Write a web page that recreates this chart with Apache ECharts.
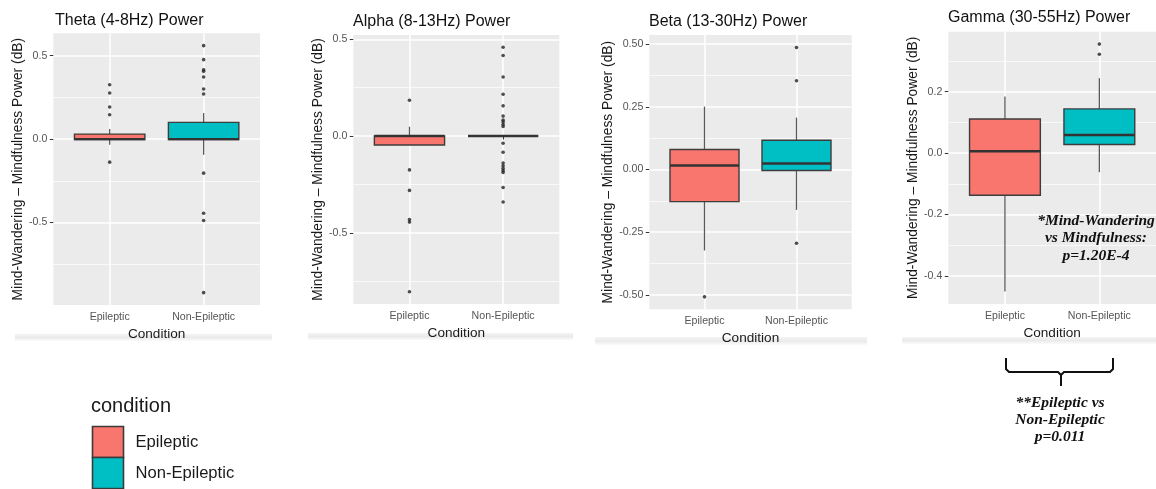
<!DOCTYPE html>
<html>
<head>
<meta charset="utf-8">
<script src="https://cdn.jsdelivr.net/npm/echarts@6/dist/echarts.min.js"></script>
<style>
  html, body { margin: 0; padding: 0; background: #ffffff; }
  #chart { width: 1156px; height: 489px; }
</style>
</head>
<body>
<div id="chart"></div>
<script>
// ---------------- DATA ----------------
const categories = ['Epileptic', 'Non-Epileptic'];
const panelTitles = ['Theta (4-8Hz) Power', 'Alpha (8-13Hz) Power', 'Beta (13-30Hz) Power', 'Gamma (30-55Hz) Power'];

// box stats: [lower whisker, Q1, median, Q3, upper whisker]
const thetaBoxEpileptic    = [-0.034, -0.002, 0.0, 0.03, 0.06];
const thetaBoxNonEpileptic = [-0.094, -0.003, 0.0, 0.10, 0.156];
const thetaOutEpileptic    = [0.326, 0.276, 0.192, 0.146, -0.138];
const thetaOutNonEpileptic = [0.56, 0.476, 0.416, 0.406, 0.372, 0.30, 0.27, -0.204, -0.444, -0.488, -0.92];

const alphaBoxEpileptic    = [-0.046, -0.046, 0.0, 0.0, 0.048];
const alphaBoxNonEpileptic = [0.0, 0.0, 0.0, 0.0, 0.0];
const alphaOutEpileptic    = [0.185, -0.175, -0.281, -0.432, -0.445, -0.805];
const alphaOutNonEpileptic = [0.459, 0.416, 0.305, 0.216, 0.156, 0.103, 0.082, 0.072, 0.059, 0.049,
                              -0.037, -0.084, -0.140, -0.154, -0.167, -0.178, -0.188, -0.266, -0.341];

const betaBoxEpileptic     = [-0.323, -0.128, 0.016, 0.080, 0.251];
const betaBoxNonEpileptic  = [-0.161, -0.004, 0.024, 0.117, 0.207];
const betaOutEpileptic     = [-0.508];
const betaOutNonEpileptic  = [0.487, 0.354, -0.294];

const gammaBoxEpileptic    = [-0.451, -0.137, 0.006, 0.111, 0.184];
const gammaBoxNonEpileptic = [-0.062, 0.028, 0.059, 0.144, 0.244];
const gammaOutEpileptic    = [];
const gammaOutNonEpileptic = [0.355, 0.322];

// y-axis tick labels (major) and minor grid positions
const thetaTicks = [-0.5, 0, 0.5];
const alphaTicks = [-0.5, 0, 0.5];
const betaTicks  = [-0.5, -0.25, 0, 0.25, 0.5];
const gammaTicks = [-0.4, -0.2, 0, 0.2];
const thetaMinor = [-0.75, -0.25, 0.25];
const alphaMinor = [-0.75, -0.25, 0.25];
const betaMinor  = [-0.375, -0.125, 0.125, 0.375];
const gammaMinor = [-0.3, -0.1, 0.1, 0.3];
const tickDecimals = [1, 1, 2, 1];

const yAxisTitle = 'Mind-Wandering \u2013 Mindfulness Power (dB)';
const xAxisTitle = 'Condition';
const legendTitle = 'condition';

// ---------------- LAYOUT / STYLE ----------------
const panels = [
  { box: [thetaBoxEpileptic, thetaBoxNonEpileptic], out: [thetaOutEpileptic, thetaOutNonEpileptic], ticks: thetaTicks, minor: thetaMinor,
    grid: { left: 53.3, top: 33.3, width: 206.7, height: 271.7 }, titlePos: [55, 13], yGap: 22, xGap: 18 },
  { box: [alphaBoxEpileptic, alphaBoxNonEpileptic], out: [alphaOutEpileptic, alphaOutNonEpileptic], ticks: alphaTicks, minor: alphaMinor,
    grid: { left: 353.3, top: 35, width: 206, height: 269 }, titlePos: [353, 14], yGap: 24, xGap: 19 },
  { box: [betaBoxEpileptic, betaBoxNonEpileptic], out: [betaOutEpileptic, betaOutNonEpileptic], ticks: betaTicks, minor: betaMinor,
    grid: { left: 649.3, top: 35, width: 202.4, height: 274.3 }, titlePos: [649, 14], yGap: 32, xGap: 15.5 },
  { box: [gammaBoxEpileptic, gammaBoxNonEpileptic], out: [gammaOutEpileptic, gammaOutNonEpileptic], ticks: gammaTicks, minor: gammaMinor,
    grid: { left: 948.3, top: 31.7, width: 207.7, height: 272.3 }, titlePos: [948, 10], yGap: 27, xGap: 15 }
];
const fills = ['#F8766D', '#00BFC4'];
const FONT = '"Liberation Sans", Arial, Helvetica, sans-serif';

const grids = [], xAxes = [], yAxes = [], series = [];
const titles = [];

panels.forEach((p, i) => {
  // ggplot-like continuous range expansion (5%)
  let lo = Infinity, hi = -Infinity;
  p.box.forEach(b => { lo = Math.min(lo, b[0]); hi = Math.max(hi, b[4]); });
  p.out.forEach(o => o.forEach(v => { lo = Math.min(lo, v); hi = Math.max(hi, v); }));
  const pad = (hi - lo) * 0.05;
  const ymin = lo - pad, ymax = hi + pad;

  grids.push(Object.assign({ show: true, backgroundColor: '#EBEBEB', borderWidth: 0, containLabel: false }, p.grid));

  xAxes.push({
    gridIndex: i, type: 'value', min: 0.4, max: 2.6,
    axisLine: { show: false },
    axisTick: { show: true, length: 3.5, customValues: [1, 2], lineStyle: { color: '#333', width: 1 } },
    axisLabel: { customValues: [1, 2], formatter: v => categories[Math.round(v) - 1], fontSize: 10.6, color: '#555', margin: 6.5, fontFamily: FONT },
    splitLine: { show: true, lineStyle: { color: '#ffffff', width: 1.5 } },
    name: xAxisTitle, nameLocation: 'middle', nameGap: p.xGap,
    nameTextStyle: { fontSize: 13.6, color: '#1a1a1a', fontFamily: FONT }
  });

  const d = tickDecimals[i];
  yAxes.push({
    gridIndex: i, type: 'value', min: ymin, max: ymax, position: 'left',
    axisLine: { show: false },
    axisTick: { show: true, length: 3.5, customValues: p.ticks, lineStyle: { color: '#333', width: 1 } },
    axisLabel: { customValues: p.ticks, formatter: v => v.toFixed(d), fontSize: 10.6, color: '#555', margin: 6, fontFamily: FONT },
    splitLine: { show: true, lineStyle: { color: '#ffffff', width: 1.5 } },
    name: yAxisTitle, nameLocation: 'middle', nameGap: p.yGap, nameRotate: 90,
    nameTextStyle: { fontSize: 13.8, color: '#1a1a1a', fontFamily: FONT },
    z: 2
  });
  // minor grid lines
  yAxes.push({
    gridIndex: i, type: 'value', min: ymin, max: ymax, position: 'left',
    axisLine: { show: false },
    axisTick: { show: false, customValues: p.minor },
    axisLabel: { show: false, customValues: p.minor },
    splitLine: { show: true, lineStyle: { color: '#ffffff', width: 0.7 } },
    z: 1
  });

  titles.push({
    text: panelTitles[i], left: p.titlePos[0], top: p.titlePos[1], padding: 0,
    textStyle: { fontSize: 16, fontWeight: 'normal', color: '#111', fontFamily: FONT }
  });
});

panels.forEach((p, i) => {
  categories.forEach((c, k) => {
    series.push({
      type: 'custom', name: c, xAxisIndex: i, yAxisIndex: 2 * i,
      itemStyle: { color: fills[k], borderColor: '#333', borderWidth: 1.5 },
      encode: { x: 0, y: [1, 2, 3, 4, 5] },
      data: [[k + 1].concat(p.box[k])],
      z: 3,
      renderItem: (params, api) => {
        const x = api.value(0);
        const pLo = api.coord([x, api.value(1)]);
        const pQ1 = api.coord([x, api.value(2)]);
        const pMed = api.coord([x, api.value(3)]);
        const pQ3 = api.coord([x, api.value(4)]);
        const pHi = api.coord([x, api.value(5)]);
        const half = api.size([0.75, 0])[0] / 2;
        const cx = pMed[0];
        return {
          type: 'group',
          children: [
            { type: 'line', shape: { x1: cx, y1: pLo[1], x2: cx, y2: pQ1[1] }, style: { stroke: '#5a5a5a', lineWidth: 1.3 } },
            { type: 'line', shape: { x1: cx, y1: pQ3[1], x2: cx, y2: pHi[1] }, style: { stroke: '#5a5a5a', lineWidth: 1.3 } },
            { type: 'rect', shape: { x: cx - half, y: pQ3[1], width: 2 * half, height: pQ1[1] - pQ3[1] },
              style: { fill: fills[k], stroke: '#3d3d3d', lineWidth: 1.4 } },
            { type: 'line', shape: { x1: cx - half, y1: pMed[1], x2: cx + half, y2: pMed[1] }, style: { stroke: '#333', lineWidth: 2.4 } }
          ]
        };
      }
    });
  });
  categories.forEach((c, k) => {
    series.push({
      type: 'scatter', name: c, xAxisIndex: i, yAxisIndex: 2 * i,
      symbol: 'circle', symbolSize: 3.6,
      itemStyle: { color: '#222' },
      data: p.out[k].map(v => [k + 1, v]),
      z: 4, silent: true
    });
  });
});

titles.push({
  text: legendTitle, left: 91, top: 396, padding: 0,
  textStyle: { fontSize: 20, fontWeight: 'normal', color: '#1a1a1a', fontFamily: FONT }
});

function band(x, y, w, h) {
  return {
    type: 'rect', shape: { x: x, y: y, width: w, height: h }, silent: true,
    style: { fill: new echarts.graphic.LinearGradient(0, 0, 0, 1, [
      { offset: 0, color: '#f4f4f4' }, { offset: 0.5, color: '#eaeaea' }, { offset: 1, color: '#fbfbfb' }]) }
  };
}

function legendFor(name, top) {
  return {
    data: [name], orient: 'vertical', left: 91.7, top: top, padding: 0,
    itemWidth: 31, itemHeight: 31, itemGap: 0, icon: 'rect',
    itemStyle: { borderColor: '#3a3a3a', borderWidth: 1.6 },
    formatter: '{a|{name}}',
    textStyle: { fontSize: 16.6, color: '#1a1a1a', fontFamily: FONT,
      rich: { a: { fontSize: 16.6, color: '#1a1a1a', fontFamily: FONT, padding: [0, 0, 0, 7] } } }
  };
}

const ANN_FONT = 'italic bold 15.5px "Liberation Serif", "Times New Roman", serif';
const bracketStyle = { stroke: '#111', lineWidth: 2, fill: null };

const option = {
  backgroundColor: '#ffffff',
  animation: false,
  title: titles,
  grid: grids,
  xAxis: xAxes,
  yAxis: yAxes,
  legend: [legendFor(categories[0], 425.7), legendFor(categories[1], 456.7)],
  graphic: [
    band(15, 334, 257, 7),
    band(308, 333, 265, 7),
    band(595, 337, 272, 8),
    band(902, 337, 254, 7),
    {
      type: 'text', x: 1096, y: 238.3, silent: true, z: 100,
      style: { text: '*Mind-Wandering\nvs Mindfulness:\np=1.20E-4', font: ANN_FONT, fill: '#111',
               align: 'center', verticalAlign: 'middle', lineHeight: 17.7 }
    },
    {
      type: 'polyline', silent: true, z: 100,
      shape: { points: [[1006, 358], [1006, 369], [1009, 372], [1058, 372], [1061, 375], [1061, 386]] },
      style: bracketStyle
    },
    {
      type: 'polyline', silent: true, z: 100,
      shape: { points: [[1061, 375], [1064, 372], [1110, 372], [1113, 369], [1113, 358]] },
      style: bracketStyle
    },
    {
      type: 'text', x: 1060, y: 420, silent: true, z: 100,
      style: { text: '**Epileptic vs\nNon-Epileptic\np=0.011', font: ANN_FONT, fill: '#111',
               align: 'center', verticalAlign: 'middle', lineHeight: 17 }
    }
  ],
  series: series
};

const chart = echarts.init(document.getElementById('chart'), null, { renderer: 'canvas' });
chart.setOption(option);
</script>
</body>
</html>
